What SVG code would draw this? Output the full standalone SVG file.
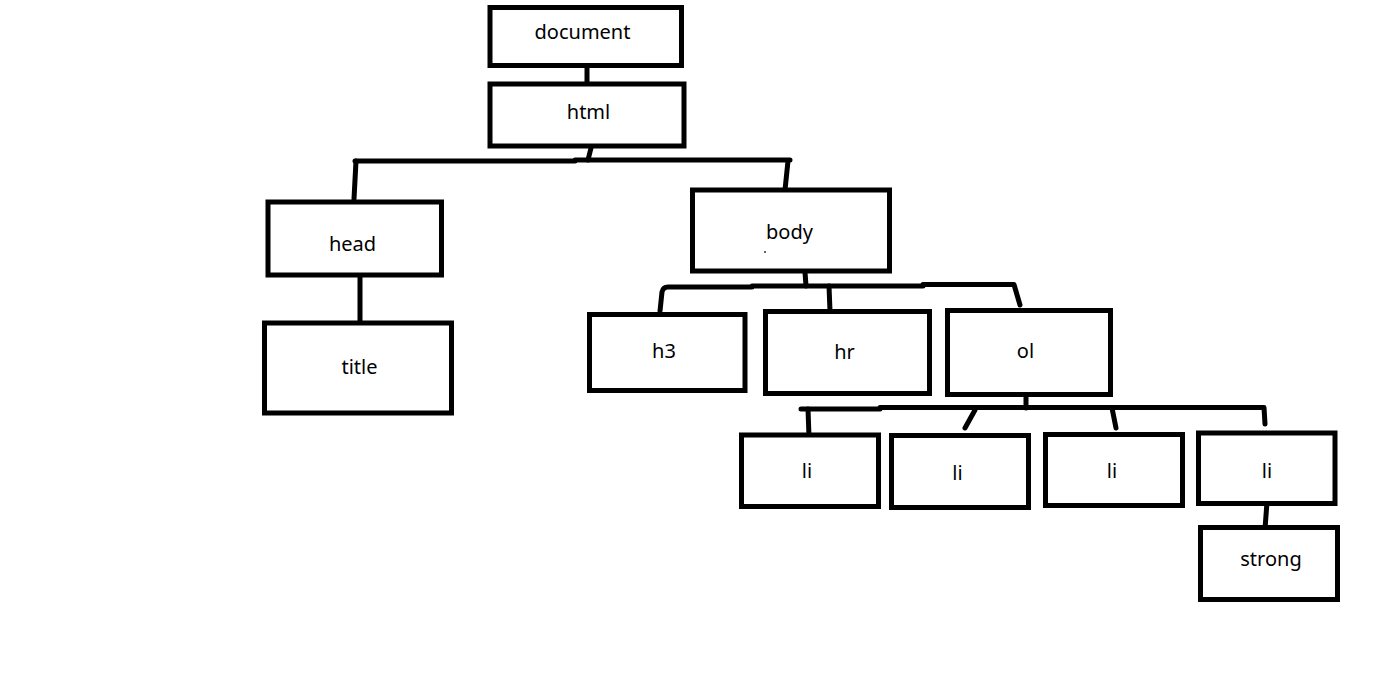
<svg xmlns="http://www.w3.org/2000/svg" width="1373" height="676" viewBox="0 0 1373 676">
<style>
.box{fill:#fff;stroke:#000;stroke-width:5}
.lbl{font-family:"Noto Sans","Open Sans",sans-serif;font-size:20px;fill:#000;text-anchor:middle}
.con{fill:none;stroke:#000;stroke-width:5;stroke-linecap:round;stroke-linejoin:round}
</style>
<rect width="1373" height="676" fill="#fff"/>
<g id="connectors">
<path class="con" d="M587,66 V83"/>
<path class="con" d="M591,148 L588,160"/>
<path class="con" d="M355,161 H575 M575,160 H790"/>
<path class="con" d="M356,161 L354,199"/>
<path class="con" d="M360,277 V321"/>
<path class="con" d="M788,161 L785,190"/>
<path class="con" d="M805,272 L806,286"/>
<path class="con" d="M660,311 L662,292 Q663,287 668,287 H752 M752,286 H923 M923,284.5 H1014 L1020,305"/>
<path class="con" d="M829,286 L830,311"/>
<path class="con" d="M1026,396 V408"/>
<path class="con" d="M801,409 H880 M880,407.5 H1264 L1265,424"/>
<path class="con" d="M808,409 L809,437"/>
<path class="con" d="M975,410 L965,428"/>
<path class="con" d="M1112,408 L1116,428"/>
<path class="con" d="M1267,502 L1265,529"/>
</g>
<g id="document"><rect class="box" x="490" y="7.5" width="191.5" height="58"/><text class="lbl" x="582.5" y="39">document</text></g>
<g id="html"><rect class="box" x="490" y="84" width="194" height="62"/><text class="lbl" x="588.5" y="118.5">html</text></g>
<g id="head"><rect class="box" x="268" y="202" width="173.5" height="73"/><text class="lbl" x="352.5" y="251">head</text></g>
<g id="title"><rect class="box" x="264.5" y="323" width="187" height="90"/><text class="lbl" x="359.5" y="373.5">title</text></g>
<g id="body"><rect class="box" x="692.5" y="190" width="197" height="81"/><text class="lbl" x="789.5" y="238.5">body</text><rect x="764" y="251" width="2" height="2" fill="#666"/></g>
<g id="h3"><rect class="box" x="589.5" y="314.5" width="155.5" height="76"/><text class="lbl" x="664" y="358">h3</text></g>
<g id="hr"><rect class="box" x="765.5" y="311.5" width="164" height="82"/><text class="lbl" x="844.5" y="359">hr</text></g>
<g id="ol"><rect class="box" x="947.5" y="310.5" width="163" height="84"/><text class="lbl" x="1025.5" y="357.5">ol</text></g>
<g id="li1"><rect class="box" x="741.5" y="435" width="137" height="71.5"/><text class="lbl" x="807" y="478">li</text></g>
<g id="li2"><rect class="box" x="891.5" y="435.5" width="137" height="72"/><text class="lbl" x="957.5" y="480">li</text></g>
<g id="li3"><rect class="box" x="1045.5" y="434.5" width="137" height="71"/><text class="lbl" x="1112" y="477.5">li</text></g>
<g id="li4"><rect class="box" x="1198.5" y="433" width="136.5" height="70.5"/><text class="lbl" x="1267" y="477.5">li</text></g>
<g id="strong"><rect class="box" x="1200.5" y="527.5" width="137" height="72"/><text class="lbl" x="1271" y="565.5">strong</text></g>
</svg>
